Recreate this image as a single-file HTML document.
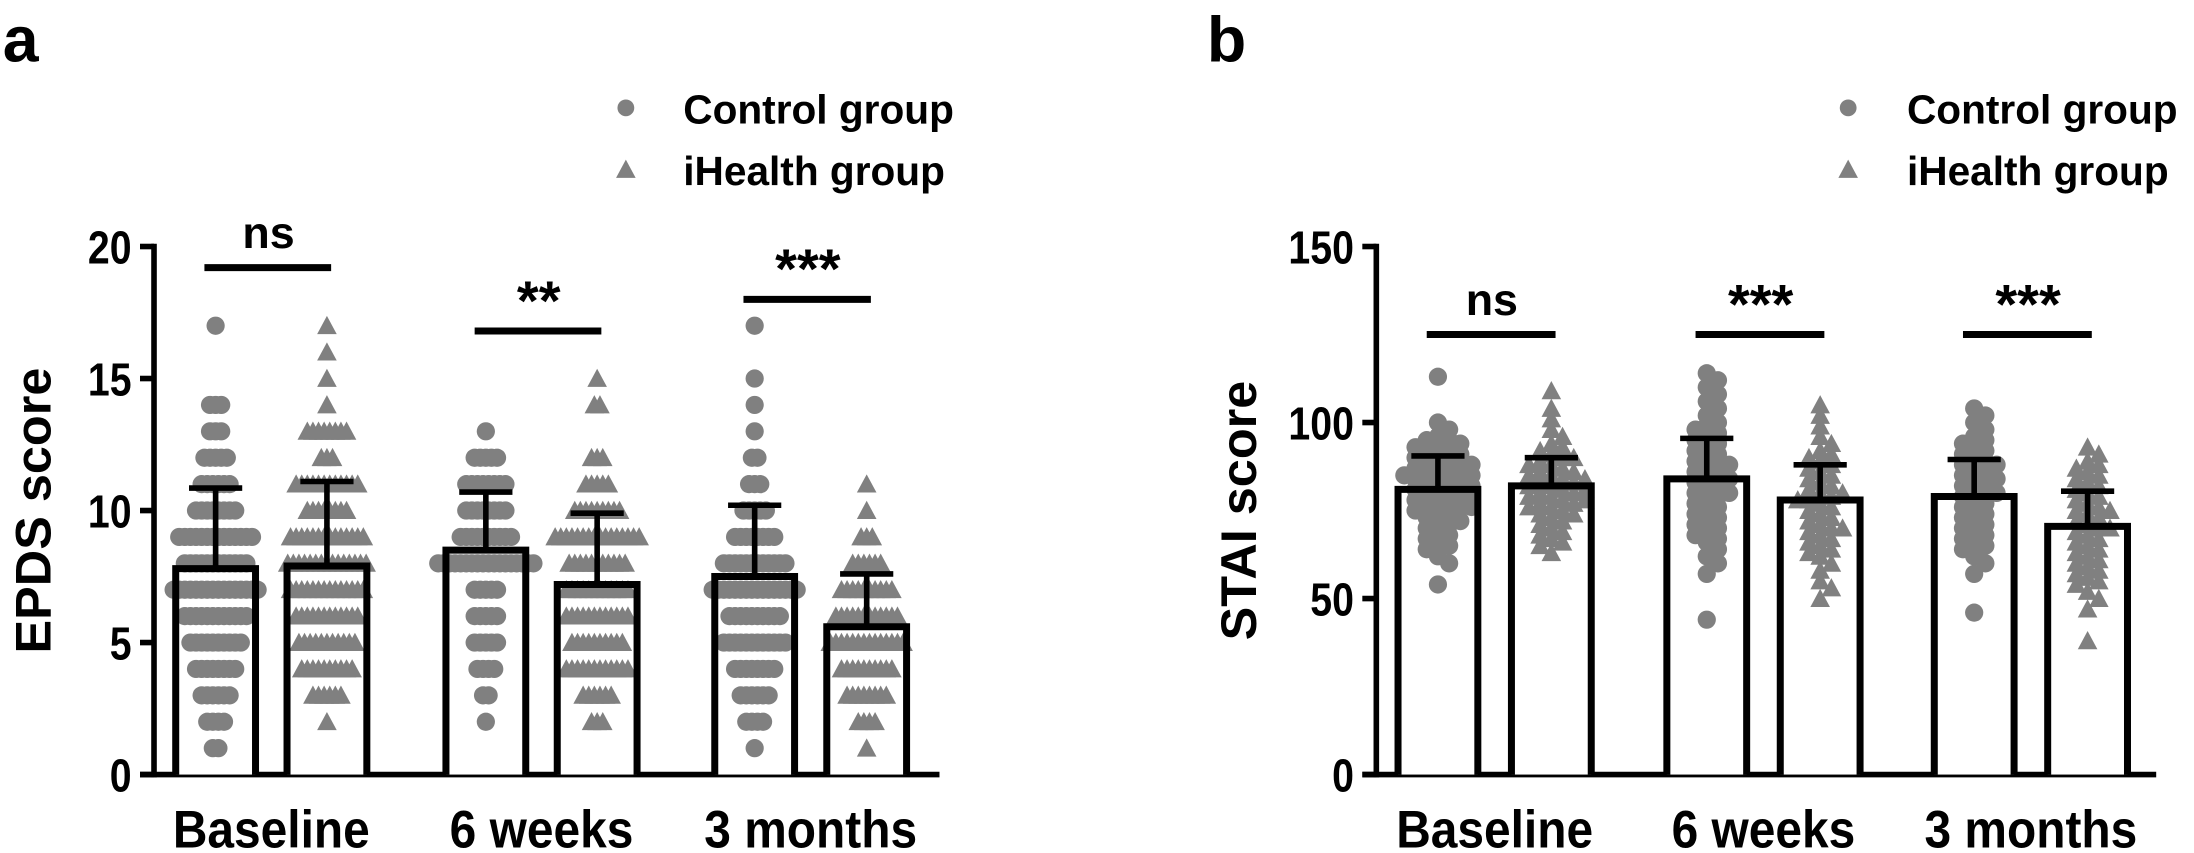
<!DOCTYPE html>
<html><head><meta charset="utf-8"><style>
html,body{margin:0;padding:0;background:#fff;}
svg{display:block;}
text{font-family:"Liberation Sans",Arial,sans-serif;font-weight:bold;fill:#000;}
</style></head><body>
<svg id="chart" width="2194" height="853" viewBox="0 0 1567 609" preserveAspectRatio="none" xmlns="http://www.w3.org/2000/svg">
<text x="2" y="44" font-size="46">a</text>
<text x="862" y="44" font-size="46">b</text>
<g>
<circle cx="447" cy="77" r="6" fill="#808080"/>
<text x="488" y="88" font-size="29">Control group</text>
<polygon points="447,114 454,127 440,127" fill="#808080"/>
<text x="488" y="132" font-size="29">iHealth group</text>
</g>
<g>
<circle cx="1320" cy="77" r="6" fill="#808080"/>
<text x="1362" y="88" font-size="29">Control group</text>
<polygon points="1320,114 1327,127 1313,127" fill="#808080"/>
<text x="1362" y="132" font-size="29">iHealth group</text>
</g>
<g id="pa"></g>
<g id="pb"></g>
</svg>
<script>
// ---- Panel a data (EPDS) ----
const catsA = ["Baseline","6 weeks","3 months"];
const meanCtrlA = [7.8, 8.5, 7.5];
const meanIhA = [7.9, 7.2, 5.6];
const sdTopCtrlA = [10.85, 10.7, 10.2];
const sdTopIhA = [11.1, 9.9, 7.6];
const sigA = ["ns","**","***"];
const sigLevelA = [19.2, 16.8, 18.0];
const ticksA = [0,5,10,15,20];
// per-level counts: [value, count]
const ptsCtrlA = [
 [[17,1],[14,3],[13,3],[12,5],[11,6],[10,8],[9,14],[8,12],[7,16],[6,12],[5,10],[4,8],[3,6],[2,4],[1,2]],
 [[13,1],[12,5],[11,8],[10,8],[9,10],[8,18],[7,5],[6,5],[5,5],[4,4],[3,2],[2,1]],
 [[17,1],[15,1],[14,1],[13,1],[12,2],[11,3],[10,5],[9,8],[8,12],[7,16],[6,10],[5,12],[4,8],[3,6],[2,4],[1,1]]
];
const ptsIhA = [
 [[17,1],[16,1],[15,1],[14,1],[13,8],[12,3],[11,12],[10,8],[9,14],[8,15],[7,14],[6,12],[5,11],[4,10],[3,6],[2,1]],
 [[15,1],[14,2],[12,3],[11,5],[10,9],[9,16],[8,11],[7,12],[6,12],[5,10],[4,12],[3,6],[2,3]],
 [[11,1],[10,1],[9,3],[8,6],[7,10],[6,12],[5,14],[4,10],[3,8],[2,4],[1,1]]
];
// ---- Panel b data (STAI) ----
const catsB = ["Baseline","6 weeks","3 months"];
const meanCtrlB = [81, 84, 79];
const meanIhB = [82, 78, 70.5];
const sdTopCtrlB = [90.5, 95.5, 89.5];
const sdTopIhB = [90, 88, 80.5];
const sigB = ["ns","***","***"];
const sigLevelB = [125, 125, 125];
const ticksB = [0,50,100,150];
const valsCtrlB = [
 [113,100,98,96,95,95,94,93,93,92,92,91,90,90,89,89,88,88,87,87,86,86,85,85,85,84,84,83,83,82,82,81,81,80,80,79,79,78,78,77,77,76,76,75,75,74,73,72,72,71,70,69,68,67,66,65,64,62,60,54],
 [114,112,110,108,106,104,102,100,99,98,97,96,95,94,93,92,91,90,89,88,88,87,86,85,84,84,83,82,81,80,80,79,78,77,76,75,74,73,72,71,70,69,68,67,66,64,62,60,57,44],
 [104,102,100,98,96,95,94,93,92,91,90,89,88,88,87,86,85,84,84,83,82,81,80,80,79,78,77,76,75,74,73,72,71,70,69,68,67,66,65,64,62,60,57,46]
];
const valsIhB = [
 [109,104,101,98,96,94,93,92,91,90,90,89,88,88,87,86,86,85,85,84,84,83,83,82,82,81,81,80,80,79,79,78,78,77,77,76,76,75,74,74,73,72,71,70,69,68,67,66,65,63],
 [105,102,99,96,94,92,91,90,89,88,87,86,85,84,83,82,81,80,80,79,78,78,77,76,75,74,73,72,71,70,70,69,68,67,66,65,64,63,62,60,58,55,53,50],
 [93,91,89,88,87,86,85,84,83,82,81,80,79,78,77,76,75,75,74,73,72,71,70,70,69,68,67,66,65,64,63,62,61,60,59,58,57,56,55,54,52,50,47,38]
];

const NS="http://www.w3.org/2000/svg";
function mk(parent,tag,attrs){const e=document.createElementNS(NS,tag);for(const k in attrs)e.setAttribute(k,attrs[k]);parent.appendChild(e);return e;}
const GRAY="#808080";

function drawPanel(g,cfg){
  const y=v=>cfg.y0-(v-cfg.vmin)/(cfg.vmax-cfg.vmin)*(cfg.y0-cfg.y1);
  const bw=57;
  let ax=mk(g,'line',{x1:cfg.ax,y1:y(cfg.vmax)-2,x2:cfg.ax,y2:cfg.y0+2,stroke:'#000','stroke-width':4});
  
  
  let xa=mk(g,'line',{x1:cfg.ax-10,y1:cfg.y0,x2:cfg.xend,y2:cfg.y0,stroke:'#000','stroke-width':4});
  
  
  cfg.ticks.forEach(t=>{
    let l=mk(g,'line',{x1:cfg.ax-10,y1:y(t),x2:cfg.ax,y2:y(t),stroke:'#000','stroke-width':4});
    
    
    let tx=mk(g,'text',{x:0,y:0,'font-size':33,'text-anchor':'end',transform:`translate(${cfg.ax-16},${y(t)+12}) scale(0.85,1)`});
    tx.textContent=t;
    
    
  });
  let tt=mk(g,'text',{x:0,y:0,'font-size':36,'text-anchor':'middle',transform:`translate(${cfg.titleX},${(y(cfg.vmax)+cfg.y0)/2}) rotate(-90)`});
  tt.textContent=cfg.title;
  
  
  cfg.cats.forEach((c,i)=>{
    const cc=cfg.centers[i][0], ci=cfg.centers[i][1];
    const lab=mk(g,'text',{x:0,y:0,'font-size':38,'text-anchor':'middle',transform:`translate(${(cc+ci)/2},${cfg.y0+52}) scale(0.9,1)`});
    lab.textContent=c;
    
    
    [[cc,cfg.meanC[i],cfg.sdC[i],'control'],[ci,cfg.meanI[i],cfg.sdI[i],'ihealth']].forEach(([cx,m,sd,grp],k)=>{
      const bg=mk(g,'rect',{x:cx-bw/2,y:y(m),width:bw,height:cfg.y0-y(m),fill:'#fff'});
      
      
      cfg.drawPts(g,cx,i,k,y);
      const br=mk(g,'path',{d:`M${cx-bw/2},${cfg.y0} V${y(m)} H${cx+bw/2} V${cfg.y0}`,fill:'none',stroke:'#000','stroke-width':5});
      
      
      const eb=mk(g,'path',{d:`M${cx},${y(m)} V${y(sd)} M${cx-19},${y(sd)} H${cx+19}`,fill:'none',stroke:'#000','stroke-width':4});
      
      
    });
    const sy=y(cfg.sigLvl[i]);
    const sl=mk(g,'line',{x1:cc-8,y1:sy,x2:ci+3,y2:sy,stroke:'#000','stroke-width':5});
    
    
    const st=mk(g,'text',{x:(cc+ci)/2-2,y:cfg.sig[i]==='ns'?sy-14:sy-8,'font-size':cfg.sig[i]==='ns'?32:40,'text-anchor':'middle'});
    st.textContent=cfg.sig[i];
    
    
  });
}
function tri(g,x,yy){const p=mk(g,'polygon',{points:`${x},${yy-7} ${x+7},${yy+6} ${x-7},${yy+6}`,fill:GRAY});return p;}

const ga=document.getElementById('pa');
drawPanel(ga,{vmin:0,vmax:20,y0:553,y1:176,ax:110,xend:671,ticks:ticksA,title:'EPDS score',titleX:36,
 cats:catsA,centers:[[154,233.5],[347,426.5],[539,619]],meanC:meanCtrlA,meanI:meanIhA,sdC:sdTopCtrlA,sdI:sdTopIhA,sig:sigA,sigLvl:sigLevelA,
 drawPts:(g,cx,i,k,y)=>{
   const rows=(k===0?ptsCtrlA:ptsIhA)[i];
   rows.forEach(([v,n])=>{for(let j=0;j<n;j++){const px=cx+(j-(n-1)/2)*4;let e;
     if(k===0){e=mk(g,'circle',{cx:px,cy:y(v),r:6.5,fill:GRAY});}else{e=tri(g,px,y(v));}
     
     }});
 }});

const gb=document.getElementById('pb');
drawPanel(gb,{vmin:0,vmax:150,y0:553,y1:176,ax:983,xend:1540,ticks:ticksB,title:'STAI score',titleX:897,
 cats:catsB,centers:[[1027,1108],[1219,1300],[1410,1491]],meanC:meanCtrlB,meanI:meanIhB,sdC:sdTopCtrlB,sdI:sdTopIhB,sig:sigB,sigLvl:sigLevelB,
 drawPts:(g,cx,i,k,y)=>{
   const vals=(k===0?valsCtrlB:valsIhB)[i];
   const placed=[];
   vals.forEach(v=>{const py=y(v);let off=0;
     for(let s=0;s<30;s++){const cand=(s%2?1:-1)*Math.ceil(s/2)*4;
       if(!placed.some(p=>Math.hypot(p[0]-cand,p[1]-py)<7)){off=cand;break;}}
     off=Math.max(-32,Math.min(32,off));placed.push([off,py]);
     let e;if(k===0){e=mk(g,'circle',{cx:cx+off,cy:py,r:6.5,fill:GRAY});}else{e=tri(g,cx+off,py);}
     
     });
 }});
</script>
</body></html>
